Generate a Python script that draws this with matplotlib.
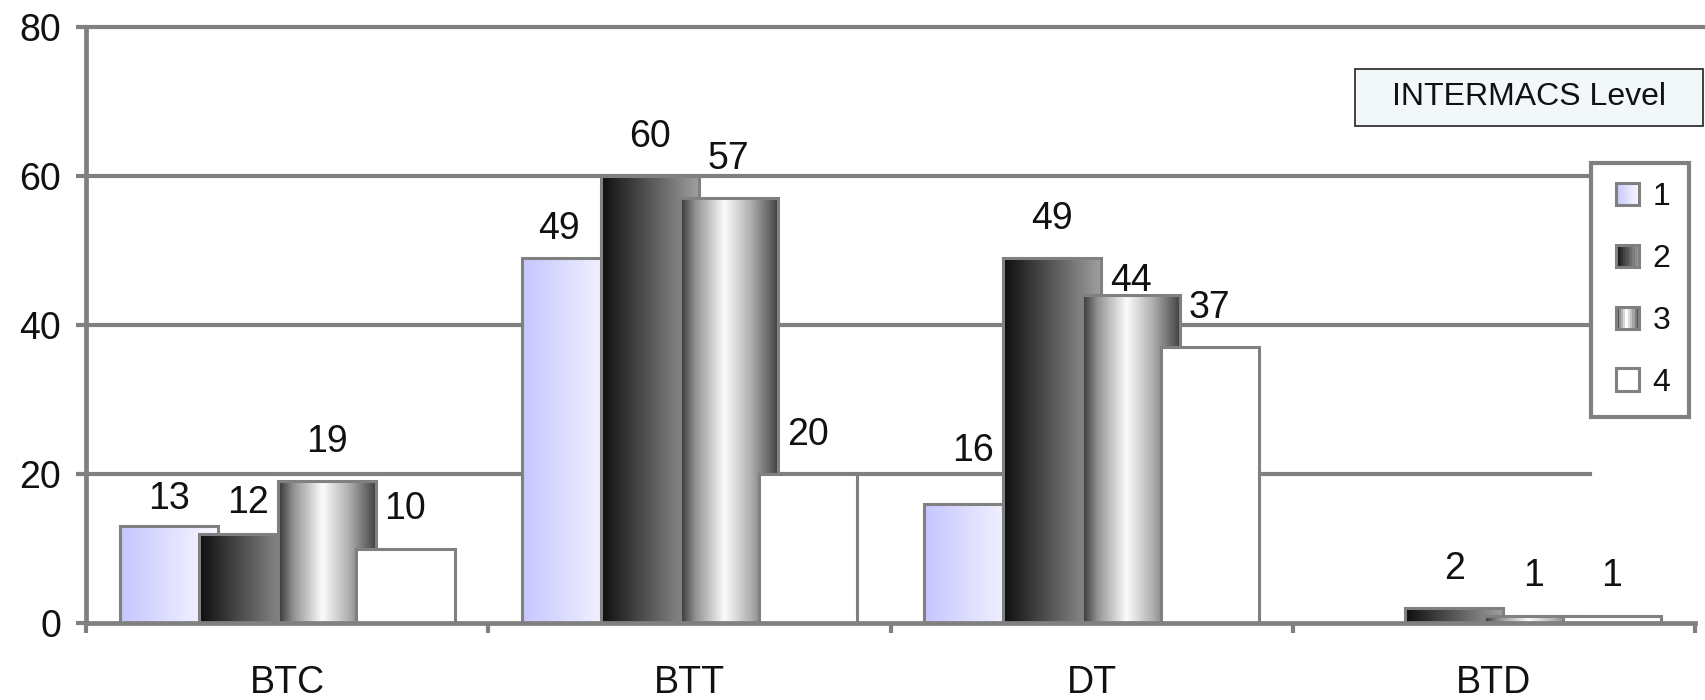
import numpy as np
import matplotlib
matplotlib.use("Agg")
import matplotlib.pyplot as plt
from matplotlib.patches import Rectangle
from matplotlib.legend_handler import HandlerBase

# Patients per support strategy, split by INTERMACS level
categories = ['BTC', 'BTT', 'DT', 'BTD']
levels = ['1', '2', '3', '4']
level1 = [13, 49, 16, 0]
level2 = [12, 60, 49, 2]
level3 = [19, 57, 44, 1]
level4 = [10, 20, 37, 1]
yticks = [0, 20, 40, 60, 80]

series = [level1, level2, level3, level4]

# hand-moved value labels: (level index, category index) -> (dx, dy) in points
label_nudge = {
    (0, 0): (0, -9),
    (1, 0): (0, -6),
    (0, 1): (-9, -7),
    (0, 2): (0, 10),
    (2, 2): (0, -18),
}

# left-to-right shading of each level's bars: (position, rgb) stops
shades = [
    [(0.0, (198, 198, 255)), (1.0, (250, 250, 255))],
    [(0.0, (15, 15, 15)), (1.0, (160, 160, 160))],
    [(0.0, (55, 55, 55)), (0.15, (145, 145, 145)), (0.45, (252, 252, 252)),
     (0.72, (175, 175, 175)), (1.0, (65, 65, 65))],
    [(0.0, (255, 255, 255)), (1.0, (255, 255, 255))],
]

GRAY = '#808080'
plt.rcParams['font.family'] = ['Liberation Sans', 'DejaVu Sans']


def shade_at(stops, t):
    pos = [s[0] for s in stops]
    return tuple(np.interp(t, pos, [s[1][k] for s in stops]) / 255.0 for k in range(3))


def gradient_strip(stops, n=64):
    t = np.linspace(0, 1, n)
    return np.array([[shade_at(stops, v) for v in t]])


class GradientHandler(HandlerBase):
    """Legend key drawn as a small shaded square."""

    def __init__(self, stops):
        super().__init__()
        self.stops = stops

    def create_artists(self, legend, orig_handle, xdescent, ydescent,
                       width, height, fontsize, trans):
        side = height
        x0 = -xdescent + (width - side) / 2.0
        y0 = -ydescent
        n = 10
        arts = []
        for i in range(n):
            arts.append(Rectangle((x0 + i * side / n, y0), side / n, side,
                                  facecolor=shade_at(self.stops, (i + 0.5) / n),
                                  edgecolor='none', transform=trans))
        arts.append(Rectangle((x0, y0), side, side, facecolor='none',
                              edgecolor=GRAY, linewidth=2.2, transform=trans))
        return arts


fig = plt.figure(figsize=(17.06, 7.0), dpi=100)
ax = fig.add_axes([0.0505, 0.11, 0.943, 0.8514])

x = np.arange(len(categories))
step = 0.196
width = 0.244

for k, vals in enumerate(series):
    pos = x + (k - 1.5) * step
    bars = ax.bar(pos, vals, width, facecolor='none', edgecolor=GRAY,
                  linewidth=2.2, zorder=3 + 2 * k)
    for j, (b, v) in enumerate(zip(bars, vals)):
        if v == 0:
            b.set_visible(False)
            continue
        bx, bw = b.get_x(), b.get_width()
        ax.imshow(gradient_strip(shades[k]), extent=[bx, bx + bw, 0, v],
                  aspect='auto', interpolation='bilinear', zorder=2 + 2 * k)
        dx, dy = label_nudge.get((k, j), (0, 0))
        ax.annotate(str(v), (bx + bw / 2, v), xytext=(dx, 21 + dy),
                    textcoords='offset points', ha='center', va='baseline',
                    fontsize=27, color='#111111', zorder=20)

ax.set_xlim(-0.5, 3.5)
ax.set_ylim(0, 80)

# horizontal grid: top line runs to the figure edge, others stop at the legend
for yv in yticks[1:-1]:
    ax.axhline(yv, xmin=0, xmax=0.935, color=GRAY, linewidth=3, zorder=1)
ax.axhline(80, xmin=0, xmax=1.0068, color=GRAY, linewidth=3, zorder=1,
           clip_on=False)

for side in ['top', 'right']:
    ax.spines[side].set_visible(False)
for side in ['left', 'bottom']:
    ax.spines[side].set_color(GRAY)
    ax.spines[side].set_linewidth(3.4)
    ax.spines[side].set_zorder(15)

ax.set_yticks(yticks)
ax.set_yticklabels([str(v) for v in yticks])
ax.set_xticks(x)
ax.set_xticklabels(categories)
ax.set_xticks(np.arange(-0.5, 4.0, 1.0), minor=True)
ax.tick_params(axis='y', direction='out', length=7, width=3, color=GRAY,
               labelsize=27, pad=11, labelcolor='#111111')
ax.tick_params(axis='x', which='major', length=0, labelsize=27, pad=30.5,
               labelcolor='#111111')
ax.tick_params(axis='x', which='minor', direction='out', length=7, width=3,
               color=GRAY)

# legend with shaded keys
proxies = [Rectangle((0, 0), 1, 1) for _ in levels]
leg = fig.legend(proxies, levels, loc='upper left',
                 bbox_to_anchor=(0.9326, 0.7671), borderaxespad=0,
                 fontsize=23, handlelength=1.1, handleheight=0.72,
                 handletextpad=0.22, borderpad=0.6, labelspacing=1.0,
                 fancybox=False,
                 handler_map={p: GradientHandler(s) for p, s in zip(proxies, shades)})
leg.get_frame().set_edgecolor(GRAY)
leg.get_frame().set_linewidth(3)
leg.get_frame().set_facecolor('white')
leg.get_frame().set_alpha(None)
for t in leg.get_texts():
    t.set_color('#111111')

# legend caption box
fig.patches.append(Rectangle((1355 / 1706, 1 - 126 / 700), 348 / 1706, 57 / 700,
                             facecolor='#f2f7f9', edgecolor='#333333',
                             linewidth=1.3, transform=fig.transFigure,
                             figure=fig))
fig.text(1529 / 1706, 1 - 97 / 700, 'INTERMACS Level', ha='center',
         va='center', fontsize=23, color='#111111')

fig.savefig('out.png', dpi=100)
